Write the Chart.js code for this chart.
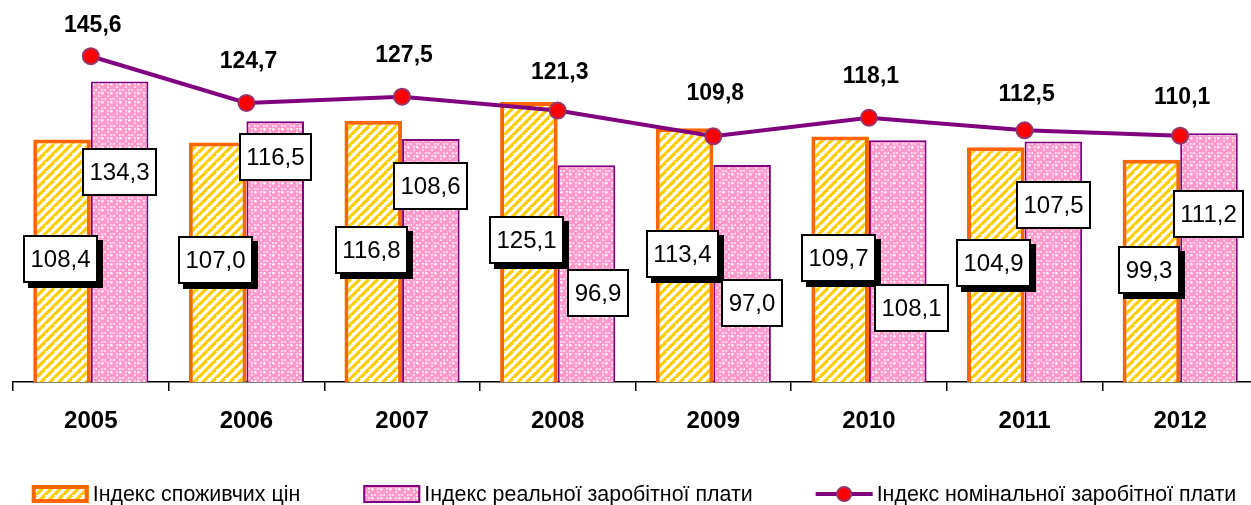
<!DOCTYPE html>
<html>
<head>
<meta charset="utf-8">
<script src="https://cdn.jsdelivr.net/npm/chart.js@4.4.1/dist/chart.umd.min.js"></script>
<style>
  html, body { margin: 0; padding: 0; background: #fff; overflow: hidden; }
  #wrap { width: 1251px; height: 505px; overflow: hidden; position: relative; }
  #wageChart { display: block; position: absolute; left: 0; top: 0; width: 1260px; height: 505px; }
</style>
</head>
<body>
<div id="wrap"><canvas id="wageChart" width="1260" height="505"></canvas></div>
<script>
var years = ['2005', '2006', '2007', '2008', '2009', '2010', '2011', '2012'];
var priceIndex = [108.4, 107.0, 116.8, 125.1, 113.4, 109.7, 104.9, 99.3];
var realWageIndex = [134.3, 116.5, 108.6, 96.9, 97.0, 108.1, 107.5, 111.2];
var nominalWageIndex = [145.6, 124.7, 127.5, 121.3, 109.8, 118.1, 112.5, 110.1];
var seriesNames = ['Індекс споживчих цін', 'Індекс реальної заробітної плати', 'Індекс номінальної заробітної плати'];

// the boxed labels were dragged around by hand in the original, so keep where they sit (value units)
var priceLabelAt = [55.0, 54.6, 59.1, 63.5, 57.3, 55.5, 53.2, 50.1];
var realLabelAt = [94.0, 100.7, 87.7, 39.8, 35.3, 33.2, 79.2, 75.2];
var realLabelShift = [0, 0, 0, 12, 10, 14, 0, 0];
// px between a line point and its bold label
var lineLabelLift = [31, 41, 41, 38, 43, 41, 36, 38];

var FONT = '"Liberation Sans", Arial, sans-serif';

function fmt(v) {
    return v.toFixed(1).replace('.', ',');
}

// yellow diagonal stripes on white
function stripePattern() {
    var c = document.createElement('canvas');
    c.width = 9; c.height = 9;
    var g = c.getContext('2d');
    g.fillStyle = '#fff';
    g.fillRect(0, 0, 9, 9);
    g.strokeStyle = '#FFCC00';
    g.lineWidth = 3.2;
    for (var k = -9; k <= 18; k += 9) {
        g.beginPath();
        g.moveTo(k - 9, 18);
        g.lineTo(k + 9, 0);
        g.stroke();
    }
    return g.createPattern(c, 'repeat');
}

// pink balls on a white checker
function spherePattern() {
    var c = document.createElement('canvas');
    c.width = 9; c.height = 9;
    var g = c.getContext('2d');
    g.fillStyle = '#fff';
    g.fillRect(0, 0, 9, 9);
    g.fillStyle = '#FF99CC';
    g.beginPath();
    g.arc(4.5, 4.5, 4.3, 0, Math.PI * 2);
    g.fill();
    g.fillRect(0, 0, 2, 2);
    g.fillRect(7, 0, 2, 2);
    g.fillRect(0, 7, 2, 2);
    g.fillRect(7, 7, 2, 2);
    g.fillStyle = '#fff';
    g.beginPath();
    g.arc(3.4, 3.2, 1.2, 0, Math.PI * 2);
    g.fill();
    return g.createPattern(c, 'repeat');
}

var stripes = stripePattern();
var spheres = spherePattern();

function drawBox(ctx, text, cx, cy, shadow) {
    ctx.font = '24px ' + FONT;
    var w = Math.round(ctx.measureText(text).width + 15);
    var h = 48;
    var x = Math.round(cx - w / 2), y = Math.round(cy - h / 2);
    if (shadow) {
        ctx.fillStyle = '#000';
        ctx.fillRect(x + 5, y + 5, w, h);
    }
    ctx.fillStyle = '#fff';
    ctx.fillRect(x, y, w, h);
    ctx.lineWidth = 2;
    ctx.strokeStyle = '#000';
    ctx.strokeRect(x + 1, y + 1, w - 2, h - 2);
    ctx.fillStyle = '#000';
    ctx.textAlign = 'center';
    ctx.textBaseline = 'middle';
    ctx.fillText(text, x + w / 2, y + h / 2 + 1);
}

var valueLabels = {
    id: 'valueLabels',
    afterDatasetsDraw: function(chart) {
        var ctx = chart.ctx;
        var yScale = chart.scales.y;
        ctx.save();
        var priceMeta = chart.getDatasetMeta(0);
        var realMeta = chart.getDatasetMeta(1);
        var lineMeta = chart.getDatasetMeta(2);

        priceMeta.data.forEach(function(bar, i) {
            drawBox(ctx, fmt(priceIndex[i]), bar.x - 2, yScale.getPixelForValue(priceLabelAt[i]), true);
        });
        realMeta.data.forEach(function(bar, i) {
            drawBox(ctx, fmt(realWageIndex[i]), bar.x + realLabelShift[i], yScale.getPixelForValue(realLabelAt[i]), false);
        });

        ctx.font = 'bold 23px ' + FONT;
        ctx.fillStyle = '#000';
        ctx.textAlign = 'center';
        ctx.textBaseline = 'middle';
        lineMeta.data.forEach(function(pt, i) {
            ctx.fillText(fmt(nominalWageIndex[i]), pt.x + 2, pt.y - lineLabelLift[i]);
        });
        ctx.restore();
    }
};

var bottomLegend = {
    id: 'bottomLegend',
    afterDraw: function(chart) {
        var ctx = chart.ctx;
        var sets = chart.data.datasets;
        var sym = 57, gap = 4, spacing = 63;
        ctx.save();
        ctx.font = '21.4px ' + FONT;
        var widths = sets.map(function(d) { return sym + gap + ctx.measureText(d.label).width; });
        var total = widths.reduce(function(a, b) { return a + b; }, 0) + spacing * (sets.length - 1);
        var x = 634 - total / 2;
        var y = 494;

        sets.forEach(function(d, i) {
            if (d.type === 'line') {
                ctx.strokeStyle = d.borderColor;
                ctx.lineWidth = 4;
                ctx.beginPath();
                ctx.moveTo(x, y);
                ctx.lineTo(x + sym, y);
                ctx.stroke();
                ctx.fillStyle = d.pointBackgroundColor;
                ctx.strokeStyle = d.pointBorderColor;
                ctx.lineWidth = 2;
                ctx.beginPath();
                ctx.arc(x + sym / 2, y, 7, 0, Math.PI * 2);
                ctx.fill();
                ctx.stroke();
            } else {
                var bw = d.borderWidth;
                ctx.fillStyle = d.backgroundColor;
                ctx.fillRect(x, y - 9, sym, 18);
                ctx.strokeStyle = d.borderColor;
                ctx.lineWidth = bw;
                ctx.strokeRect(x + bw / 2, y - 9 + bw / 2, sym - bw, 18 - bw);
            }
            ctx.fillStyle = '#000';
            ctx.textAlign = 'left';
            ctx.textBaseline = 'middle';
            ctx.fillText(d.label, x + sym + gap, y + 1);
            x += widths[i] + spacing;
        });
        ctx.restore();
    }
};

var ctx = document.getElementById('wageChart').getContext('2d');
var chart = new Chart(ctx, {
    type: 'bar',
    data: {
        labels: years,
        datasets: [{
            label: seriesNames[0],
            data: priceIndex,
            backgroundColor: stripes,
            borderColor: '#FF6600',
            borderWidth: 4,
            categoryPercentage: 0.74,
            barPercentage: 1,
            order: 1
        }, {
            label: seriesNames[1],
            data: realWageIndex,
            backgroundColor: spheres,
            borderColor: '#800080',
            borderWidth: 2,
            categoryPercentage: 0.74,
            barPercentage: 1,
            order: 1
        }, {
            type: 'line',
            label: seriesNames[2],
            data: nominalWageIndex,
            borderColor: '#800080',
            borderWidth: 4,
            pointRadius: 8,
            pointBackgroundColor: '#FF0000',
            pointBorderColor: '#993366',
            pointBorderWidth: 2,
            tension: 0,
            order: 0
        }]
    },
    options: {
        responsive: false,
        animation: false,
        layout: {
            autoPadding: false,
            padding: { top: 24, left: 13, right: 2, bottom: 0 }
        },
        plugins: {
            legend: { display: false },
            tooltip: { enabled: false }
        },
        scales: {
            x: {
                grid: {
                    display: true,
                    drawOnChartArea: false,
                    drawTicks: true,
                    tickLength: 9,
                    color: '#000',
                    lineWidth: 1.5
                },
                border: { display: true, color: '#000', width: 1.5 },
                ticks: {
                    color: '#000',
                    padding: 16,
                    font: { family: FONT, size: 24, weight: 'bold' }
                },
                afterFit: function(scale) {
                    scale.height = 123;
                }
            },
            y: {
                display: false,
                min: 0,
                max: 160
            }
        }
    },
    plugins: [valueLabels, bottomLegend]
});
</script>
</body>
</html>
